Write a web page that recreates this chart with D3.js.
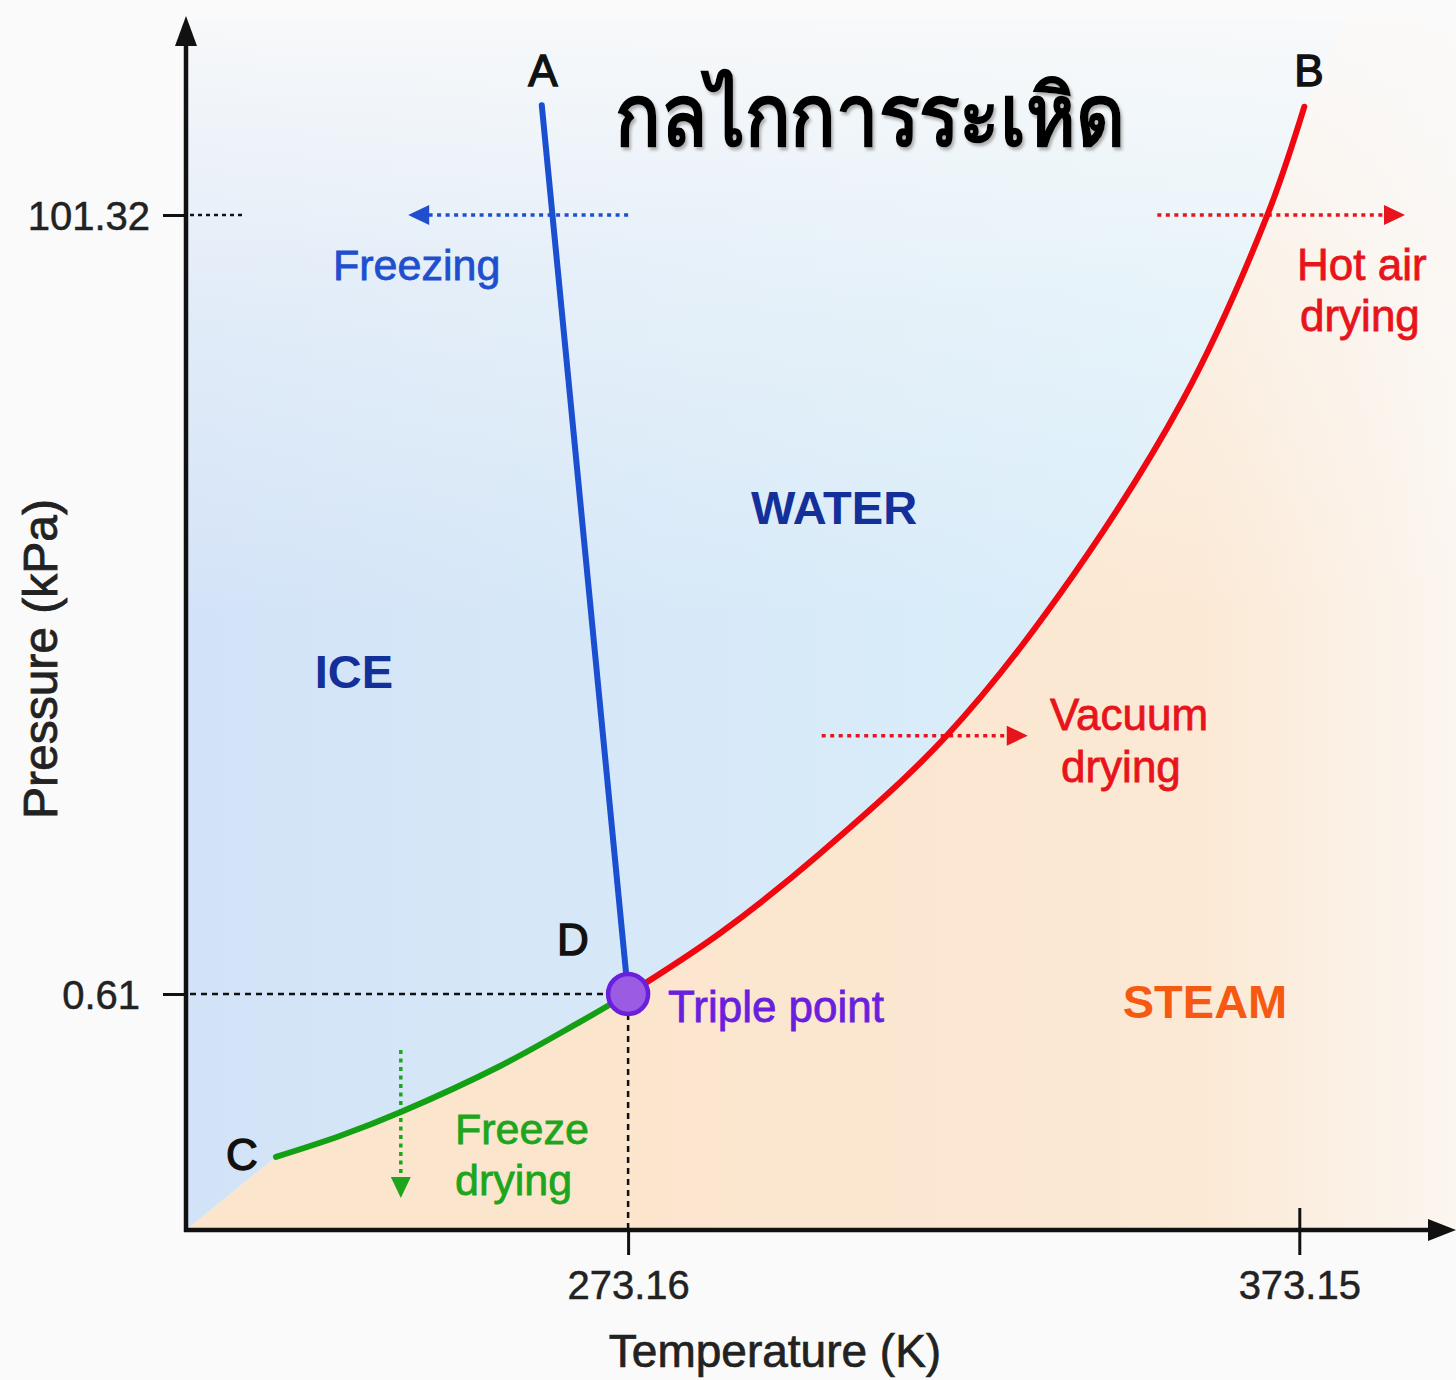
<!DOCTYPE html>
<html><head><meta charset="utf-8">
<script src="https://cdn.jsdelivr.net/npm/d3@7"></script>
<style>
html,body{margin:0;padding:0;background:#fafafa;}
svg{display:block;}
text{font-family:"Liberation Sans",Arial,Helvetica,sans-serif;}
</style></head><body>
<svg id="chart" width="1456" height="1380"></svg>
<script>
// ---------------- DATA ----------------
const title = "กลไกการระเหิด";
const xLabel = "Temperature (K)";
const yLabel = "Pressure (kPa)";
const xTicks = [273.16, 373.15];
const yTicks = [101.32, 0.61];
const tripleT = 273.16, tripleP = 0.61;
// fusion line D -> A
const fusionT = [273.16, 260.3];
const fusionP = [0.61, 115.5];
// vaporization curve D -> B
const vapT = [273.16, 286.9, 301.8, 320.4, 336.9, 355.8, 368.3, 373.9];
const vapP = [0.61, 8.5, 18.8, 33.8, 51.6, 77.4, 101.1, 115.3];
// sublimation curve C -> D
const subT = [220.7, 230.2, 239.3, 254.1, 266.0, 273.16];
const subP = [0.189, 0.243, 0.305, 0.424, 0.538, 0.61];
// region boundary continuation below C and above B
const lowT = [207.3, 220.7], lowP = [0, 0.189];
const highT = [373.9, 380.2], highP = [115.3, 126.5];
// process paths (start -> end)
const procNames = ["Freezing", "Hot air drying", "Vacuum drying", "Freeze drying"];
const procT0 = [273.16, 352.0, 302.0, 239.3];
const procT1 = [240.4, 388.9, 332.7, 239.3];
const procP0 = [101.32, 101.32, 34.0, 0.465];
const procP1 = [101.32, 101.32, 34.0, 0.083];
const procColors = ["#1f4fcf", "#e8141c", "#e8141c", "#1ea51e"];

// ---------------- SCALES ----------------
const svg = d3.select("#chart");
const W = 1456, H = 1380;
const x = d3.scaleLinear().domain([207.3, 395.6]).range([186, 1450]);
const y = d3.scaleLinear().domain([0, 0.61, 101.32, 126.5]).range([1230, 994, 215, 20]);
const x0 = x.range()[0], yB = y.range()[0], yT = y.range()[3];

svg.append("rect").attr("width", W).attr("height", H).attr("fill", "#fafafa");

const defs = svg.append("defs");
const gBlue = defs.append("linearGradient").attr("id", "gBlue").attr("gradientUnits", "userSpaceOnUse")
  .attr("x1", 186).attr("y1", 0).attr("x2", 1300).attr("y2", 0);
gBlue.append("stop").attr("offset", 0).attr("stop-color", "#d3e3f7");
gBlue.append("stop").attr("offset", 0.45).attr("stop-color", "#d7e9f8");
gBlue.append("stop").attr("offset", 1).attr("stop-color", "#dbf0fa");
const gPeach = defs.append("linearGradient").attr("id", "gPeach").attr("gradientUnits", "userSpaceOnUse")
  .attr("x1", 600).attr("y1", 0).attr("x2", 1456).attr("y2", 0);
gPeach.append("stop").attr("offset", 0).attr("stop-color", "#fbe5cd");
gPeach.append("stop").attr("offset", 0.7).attr("stop-color", "#fbe9d5");
gPeach.append("stop").attr("offset", 1).attr("stop-color", "#fbf6f0");
const gTop = defs.append("linearGradient").attr("id", "gTop").attr("gradientUnits", "userSpaceOnUse")
  .attr("x1", 0).attr("y1", 20).attr("x2", 0).attr("y2", 620);
gTop.append("stop").attr("offset", 0).attr("stop-color", "#fafafa").attr("stop-opacity", 0.92);
gTop.append("stop").attr("offset", 0.45).attr("stop-color", "#fafafa").attr("stop-opacity", 0.4);
gTop.append("stop").attr("offset", 1).attr("stop-color", "#fafafa").attr("stop-opacity", 0);
const shadow = defs.append("filter").attr("id", "shadow").attr("x", "-10%").attr("y", "-10%").attr("width", "120%").attr("height", "130%");
shadow.append("feDropShadow").attr("dx", 2).attr("dy", 3).attr("stdDeviation", 1.5)
  .attr("flood-color", "#777").attr("flood-opacity", 0.55);

// ---------------- REGIONS ----------------
const zip = (T, P) => T.map((t, i) => [x(t), y(P[i])]);
const lin = d3.line();
const smooth = d3.line().curve(d3.curveCatmullRom.alpha(0.5));
const boundary = lin(zip(lowT, lowP)) +
  smooth(zip(subT, subP)).replace(/^M/, "L") +
  smooth(zip(vapT, vapP)).replace(/^M/, "L") +
  lin(zip(highT, highP)).replace(/^M/, "L");

svg.append("path").attr("d", boundary + `L${W},${yT}L${W},${yB}Z`).attr("fill", "url(#gPeach)");
svg.append("path").attr("d", boundary + `L${x0},${yT}Z`).attr("fill", "url(#gBlue)");
svg.append("rect").attr("x", x0).attr("y", 0).attr("width", W - x0).attr("height", yB).attr("fill", "url(#gTop)");

// ---------------- REFERENCE LINES ----------------
svg.append("line").attr("x1", x0 + 4).attr("x2", 245).attr("y1", y(101.32)).attr("y2", y(101.32))
  .attr("stroke", "#111").attr("stroke-width", 2.5).attr("stroke-dasharray", "4,4");
svg.append("line").attr("x1", x0 + 4).attr("x2", x(tripleT) - 20).attr("y1", y(tripleP)).attr("y2", y(tripleP))
  .attr("stroke", "#111").attr("stroke-width", 2.5).attr("stroke-dasharray", "6,5");
svg.append("line").attr("x1", x(tripleT)).attr("x2", x(tripleT)).attr("y1", y(tripleP) + 20).attr("y2", yB)
  .attr("stroke", "#111").attr("stroke-width", 2.5).attr("stroke-dasharray", "6,5");

// ---------------- PROCESS ARROWS ----------------
procNames.forEach((n, i) => {
  const ax = x(procT0[i]), ay = y(procP0[i]), bx = x(procT1[i]), by = y(procP1[i]);
  const L = Math.hypot(bx - ax, by - ay), ux = (bx - ax) / L, uy = (by - ay) / L;
  const hl = 21, hw = 10;
  svg.append("line").attr("x1", ax).attr("y1", ay).attr("x2", bx - ux * (hl - 2)).attr("y2", by - uy * (hl - 2))
    .attr("stroke", procColors[i]).attr("stroke-width", 3.5).attr("stroke-dasharray", "4,4.5");
  const bxh = bx - ux * hl, byh = by - uy * hl;
  svg.append("path").attr("d", `M${bx},${by}L${bxh - uy * hw},${byh + ux * hw}L${bxh + uy * hw},${byh - ux * hw}Z`)
    .attr("fill", procColors[i]);
});

// ---------------- PHASE LINES ----------------
svg.append("path").attr("d", lin(zip(fusionT, fusionP))).attr("fill", "none")
  .attr("stroke", "#1a4fd2").attr("stroke-width", 6).attr("stroke-linecap", "round");
svg.append("path").attr("d", smooth(zip(vapT, vapP))).attr("fill", "none")
  .attr("stroke", "#f0070f").attr("stroke-width", 6).attr("stroke-linecap", "round");
svg.append("path").attr("d", smooth(zip(subT, subP))).attr("fill", "none")
  .attr("stroke", "#14a014").attr("stroke-width", 6).attr("stroke-linecap", "round");

svg.append("circle").attr("cx", x(tripleT)).attr("cy", y(tripleP)).attr("r", 20)
  .attr("fill", "#9b5be3").attr("stroke", "#6a1fdc").attr("stroke-width", 4.5);

// ---------------- AXES ----------------
const yAxis = svg.append("g").attr("transform", `translate(${x0},0)`)
  .call(d3.axisLeft(y).tickValues(yTicks).tickSize(23).tickFormat(d3.format(".2f")));
yAxis.select(".domain").remove();
yAxis.selectAll(".tick line").attr("stroke", "#111").attr("stroke-width", 3);
yAxis.selectAll(".tick text").attr("x", d => d > 50 ? -36 : -46).attr("dy", "0.36em")
  .attr("font-size", 40).attr("fill", "#222").attr("stroke", "#222").attr("stroke-width", 0.5)
  .attr("font-family", "Liberation Sans, Arial, sans-serif");

const xAxis = svg.append("g").attr("transform", `translate(0,${yB})`)
  .call(d3.axisBottom(x).tickValues(xTicks).tickSize(25).tickFormat(d => d.toFixed(2)));
xAxis.select(".domain").remove();
xAxis.selectAll(".tick line").attr("stroke", "#111").attr("stroke-width", 3).attr("y1", d => d > 300 ? -22 : 0);
xAxis.selectAll(".tick text").attr("y", 69).attr("dy", 0)
  .attr("font-size", 40).attr("fill", "#222").attr("stroke", "#222").attr("stroke-width", 0.5)
  .attr("font-family", "Liberation Sans, Arial, sans-serif");

svg.append("line").attr("x1", x0).attr("x2", x0).attr("y1", yB + 2).attr("y2", 40)
  .attr("stroke", "#111").attr("stroke-width", 4.5);
svg.append("path").attr("d", `M${x0},16L${x0 - 11},46L${x0 + 11},46Z`).attr("fill", "#111");
svg.append("line").attr("x1", x0 - 2).attr("x2", 1432).attr("y1", yB).attr("y2", yB)
  .attr("stroke", "#111").attr("stroke-width", 4.5);
svg.append("path").attr("d", `M1456,${yB}L1428,${yB - 11}L1428,${yB + 11}Z`).attr("fill", "#111");

svg.append("text").attr("x", 775).attr("y", 1367).attr("text-anchor", "middle")
  .attr("font-size", 46).attr("fill", "#222").attr("stroke", "#222").attr("stroke-width", 0.7).text(xLabel);
svg.append("text").attr("transform", "translate(57,659) rotate(-90)").attr("text-anchor", "middle")
  .attr("font-size", 48).attr("fill", "#222").attr("stroke", "#222").attr("stroke-width", 0.8).text(yLabel);

// ---------------- LABELS ----------------
function label(txt, px, py, size, color, opts = {}) {
  const t = svg.append("text").attr("x", px).attr("y", py).attr("font-size", size)
    .attr("fill", color).attr("text-anchor", opts.anchor || "start")
    .attr("font-weight", opts.bold ? 700 : 400)
    .attr("stroke", opts.bold ? "none" : color).attr("stroke-width", opts.sw == null ? 0.8 : opts.sw)
    .text(txt);
  return t;
}
label("A", 543, 86, 44, "#111", {anchor: "middle", sw: 1.4});
label("B", 1309, 86, 44, "#111", {anchor: "middle", sw: 1.4});
label("C", 242, 1170, 44, "#111", {anchor: "middle", sw: 1.4});
label("D", 573, 955, 44, "#111", {anchor: "middle", sw: 1.4});

label("Freezing", 333, 280, 43, "#1f4fcf");
label("Hot air", 1297, 280, 44, "#e8141c");
label("drying", 1300, 331, 44, "#e8141c");
label("Vacuum", 1050, 730, 44, "#e8141c");
label("drying", 1061, 782, 44, "#e8141c");
label("Triple point", 668, 1022, 44, "#6a1fdc");
label("Freeze", 455, 1144, 43, "#1ea51e");
label("drying", 455, 1195, 43, "#1ea51e");

label("WATER", 834, 524, 47, "#13309a", {anchor: "middle", bold: true});
label("ICE", 354, 688, 47, "#13309a", {anchor: "middle", bold: true});
label("STEAM", 1205, 1018, 47, "#f65a12", {anchor: "middle", bold: true});

svg.append("text").attr("x", 615).attr("y", 145).attr("text-anchor", "start")
  .attr("font-family", "'Noto Sans Thai','Noto Sans Thai UI','Noto Sans',sans-serif")
  .attr("font-size", 84).attr("font-weight", 700).attr("fill", "#000")
  .attr("textLength", 510).attr("lengthAdjust", "spacingAndGlyphs")
  .attr("filter", "url(#shadow)").text(title);
</script>
</body></html>
